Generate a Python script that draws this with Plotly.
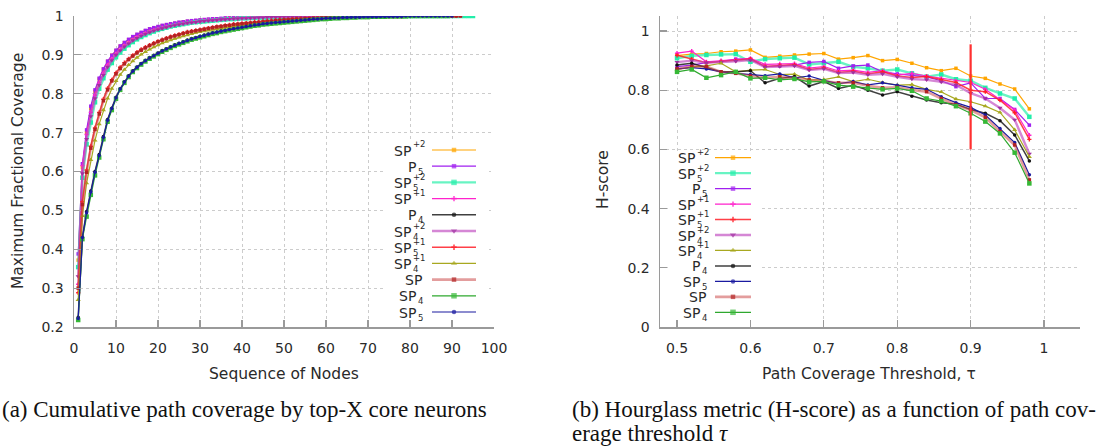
import plotly.graph_objects as go

W, H = 1117, 448

# ---------------- Panel (a): cumulative path coverage ----------------
cov_sp_p2 = [0.372, 0.610, 0.700, 0.762, 0.806, 0.838, 0.863, 0.883, 0.899, 0.911,
             0.922, 0.931, 0.939, 0.946, 0.952, 0.957, 0.962, 0.966, 0.969, 0.972,
             0.975, 0.977, 0.979, 0.981, 0.983, 0.985, 0.986, 0.987, 0.988, 0.989,
             0.990, 0.991, 0.992, 0.993, 0.993, 0.994, 0.995, 0.995, 0.996, 0.996,
             0.997, 0.997, 0.997, 0.998, 0.998, 0.998, 0.998, 0.999, 0.999, 0.999,
             0.999, 0.999, 0.999, 0.999, 0.999, 0.999, 1, 1, 1, 1,
             1, 1, 1, 1, 1, 1, 1, 1, 1, 1,
             1, 1, 1, 1, 1, 1, 1, 1, 1, 1,
             1, 1, 1, 1, 1, 1, 1, 1, 1, 1,
             1, 1, 1]
cov_p5 = [0.388, 0.620, 0.707, 0.768, 0.810, 0.840, 0.864, 0.884, 0.899, 0.912,
          0.923, 0.932, 0.940, 0.947, 0.953, 0.958, 0.963, 0.967, 0.970, 0.973,
          0.976, 0.978, 0.980, 0.982, 0.984, 0.985, 0.987, 0.988, 0.989, 0.990,
          0.991, 0.992, 0.993, 0.993, 0.994, 0.995, 0.995, 0.996, 0.996, 0.997,
          0.997, 0.997, 0.998, 0.998, 0.998, 0.998, 0.999, 0.999, 0.999, 0.999,
          0.999, 0.999, 0.999, 0.999, 0.999, 1, 1, 1, 1, 1,
          1, 1, 1, 1, 1, 1, 1, 1, 1, 1,
          1, 1, 1, 1, 1, 1, 1, 1, 1, 1,
          1, 1, 1, 1, 1, 1, 1, 1, 1, 1]
cov_sp5_p2 = [0.354, 0.584, 0.670, 0.726, 0.778, 0.813, 0.840, 0.862, 0.879, 0.894,
              0.906, 0.916, 0.925, 0.933, 0.940, 0.946, 0.951, 0.956, 0.960, 0.964,
              0.967, 0.970, 0.973, 0.975, 0.977, 0.979, 0.981, 0.983, 0.984, 0.985,
              0.986, 0.987, 0.988, 0.989, 0.990, 0.991, 0.992, 0.992, 0.993, 0.994,
              0.994, 0.995, 0.995, 0.996, 0.996, 0.996, 0.997, 0.997, 0.997, 0.998,
              0.998, 0.998, 0.998, 0.998, 0.999, 0.999, 0.999, 0.999, 0.999, 0.999,
              0.999, 0.999, 0.999, 0.999, 1, 1, 1, 1, 1, 1,
              1, 1, 1, 1, 1, 1, 1, 1, 1, 1,
              1, 1, 1, 1, 1, 1, 1, 1, 1, 1,
              1, 1, 1, 1, 1]
cov_sp_p1 = [0.310, 0.615, 0.695, 0.752, 0.796, 0.828, 0.853, 0.874, 0.890, 0.903,
             0.914, 0.924, 0.932, 0.939, 0.946, 0.951, 0.956, 0.960, 0.964, 0.967,
             0.970, 0.973, 0.975, 0.977, 0.979, 0.981, 0.983, 0.984, 0.985, 0.986,
             0.988, 0.989, 0.990, 0.990, 0.991, 0.992, 0.993, 0.993, 0.994, 0.994,
             0.995, 0.995, 0.996, 0.996, 0.997, 0.997, 0.997, 0.998, 0.998, 0.998,
             0.998, 0.999, 0.999, 0.999, 0.999, 0.999, 0.999, 0.999, 0.999, 0.999,
             1, 1, 1, 1, 1, 1, 1, 1, 1, 1,
             1, 1, 1, 1, 1, 1, 1, 1, 1, 1,
             1, 1, 1, 1, 1, 1, 1, 1, 1, 1,
             1, 1]
cov_p4 = [0.225, 0.432, 0.497, 0.550, 0.600, 0.644, 0.690, 0.734, 0.763, 0.791,
          0.813, 0.831, 0.846, 0.859, 0.869, 0.878, 0.886, 0.893, 0.899, 0.905,
          0.911, 0.916, 0.921, 0.926, 0.930, 0.934, 0.938, 0.942, 0.945, 0.948,
          0.951, 0.954, 0.957, 0.959, 0.962, 0.964, 0.966, 0.968, 0.970, 0.972,
          0.974, 0.976, 0.978, 0.979, 0.981, 0.982, 0.983, 0.984, 0.985, 0.986,
          0.987, 0.988, 0.989, 0.990, 0.991, 0.992, 0.993, 0.993, 0.994, 0.995,
          0.995, 0.996, 0.996, 0.997, 0.997, 0.997, 0.998, 0.998, 0.998, 0.999,
          0.999, 0.999, 0.999, 0.999, 0.999, 0.999, 1, 1, 1, 1,
          1, 1, 1, 1, 1, 1, 1, 1]
cov_sp4_p2 = [0.330, 0.595, 0.683, 0.742, 0.788, 0.822, 0.848, 0.869, 0.886, 0.900,
              0.911, 0.921, 0.929, 0.937, 0.943, 0.949, 0.954, 0.958, 0.962, 0.965,
              0.968, 0.971, 0.974, 0.976, 0.978, 0.980, 0.982, 0.983, 0.984, 0.986,
              0.987, 0.988, 0.989, 0.990, 0.991, 0.991, 0.992, 0.993, 0.993, 0.994,
              0.994, 0.995, 0.995, 0.996, 0.996, 0.997, 0.997, 0.997, 0.998, 0.998,
              0.998, 0.998, 0.998, 0.999, 0.999, 0.999, 0.999, 0.999, 0.999, 0.999,
              0.999, 0.999, 0.999, 1, 1, 1, 1, 1, 1, 1,
              1, 1, 1, 1, 1, 1, 1, 1, 1, 1,
              1, 1, 1, 1, 1, 1, 1, 1, 1, 1,
              1]
cov_sp5_p1 = [0.288, 0.522, 0.604, 0.665, 0.712, 0.752, 0.786, 0.814, 0.836, 0.854,
              0.868, 0.880, 0.890, 0.899, 0.907, 0.914, 0.920, 0.925, 0.930, 0.935,
              0.939, 0.943, 0.947, 0.950, 0.953, 0.956, 0.959, 0.961, 0.963, 0.965,
              0.967, 0.969, 0.971, 0.973, 0.974, 0.976, 0.977, 0.979, 0.980, 0.981,
              0.982, 0.983, 0.984, 0.985, 0.986, 0.987, 0.988, 0.989, 0.990, 0.990,
              0.991, 0.992, 0.992, 0.993, 0.993, 0.994, 0.994, 0.995, 0.995, 0.996,
              0.996, 0.996, 0.997, 0.997, 0.997, 0.998, 0.998, 0.998, 0.998, 0.999,
              0.999, 0.999, 0.999, 0.999, 0.999, 0.999, 0.999, 0.999, 1, 1,
              1, 1, 1, 1, 1, 1, 1, 1, 1, 1,
              1]
cov_sp4_p1 = [0.270, 0.486, 0.570, 0.630, 0.680, 0.722, 0.758, 0.788, 0.813, 0.833,
              0.849, 0.862, 0.874, 0.884, 0.893, 0.901, 0.908, 0.914, 0.920, 0.925,
              0.930, 0.934, 0.938, 0.942, 0.945, 0.948, 0.951, 0.954, 0.957, 0.959,
              0.961, 0.963, 0.965, 0.967, 0.969, 0.971, 0.972, 0.974, 0.975, 0.977,
              0.978, 0.979, 0.980, 0.981, 0.982, 0.983, 0.984, 0.985, 0.986, 0.987,
              0.988, 0.989, 0.989, 0.990, 0.991, 0.991, 0.992, 0.993, 0.993, 0.994,
              0.994, 0.995, 0.995, 0.996, 0.996, 0.996, 0.997, 0.997, 0.997, 0.998,
              0.998, 0.998, 0.998, 0.999, 0.999, 0.999, 0.999, 0.999, 1, 1,
              1, 1, 1, 1, 1, 1, 1, 1, 1, 1]
cov_sp = [0.300, 0.515, 0.598, 0.660, 0.708, 0.748, 0.782, 0.810, 0.833, 0.851,
          0.865, 0.877, 0.888, 0.897, 0.905, 0.912, 0.918, 0.924, 0.929, 0.934,
          0.938, 0.942, 0.946, 0.949, 0.952, 0.955, 0.958, 0.960, 0.962, 0.964,
          0.966, 0.968, 0.970, 0.972, 0.973, 0.975, 0.976, 0.978, 0.979, 0.980,
          0.981, 0.982, 0.983, 0.984, 0.985, 0.986, 0.987, 0.988, 0.989, 0.990,
          0.990, 0.991, 0.992, 0.992, 0.993, 0.993, 0.994, 0.994, 0.995, 0.995,
          0.996, 0.996, 0.996, 0.997, 0.997, 0.997, 0.998, 0.998, 0.998, 0.998,
          0.999, 0.999, 0.999, 0.999, 0.999, 0.999, 0.999, 0.999, 1, 1,
          1, 1, 1, 1, 1, 1, 1, 1, 1, 1,
          1, 1]
cov_sp4 = [0.218, 0.426, 0.484, 0.540, 0.590, 0.636, 0.683, 0.728, 0.758, 0.787,
           0.810, 0.828, 0.843, 0.856, 0.866, 0.875, 0.883, 0.890, 0.896, 0.902,
           0.908, 0.913, 0.918, 0.923, 0.927, 0.931, 0.935, 0.939, 0.942, 0.945,
           0.948, 0.951, 0.954, 0.956, 0.959, 0.961, 0.963, 0.965, 0.967, 0.969,
           0.971, 0.973, 0.975, 0.976, 0.978, 0.979, 0.980, 0.981, 0.982, 0.983,
           0.984, 0.985, 0.986, 0.987, 0.988, 0.989, 0.990, 0.991, 0.992, 0.992,
           0.993, 0.994, 0.994, 0.995, 0.995, 0.996, 0.996, 0.997, 0.997, 0.997,
           0.998, 0.998, 0.998, 0.998, 0.999, 0.999, 0.999, 0.999, 0.999, 1,
           1, 1, 1, 1, 1, 1, 1, 1, 1]
cov_sp5 = [0.222, 0.430, 0.494, 0.547, 0.598, 0.641, 0.688, 0.732, 0.762, 0.790,
           0.812, 0.830, 0.845, 0.858, 0.868, 0.877, 0.885, 0.892, 0.898, 0.904,
           0.910, 0.915, 0.920, 0.925, 0.929, 0.933, 0.937, 0.941, 0.944, 0.947,
           0.950, 0.953, 0.956, 0.958, 0.961, 0.963, 0.965, 0.967, 0.969, 0.971,
           0.973, 0.975, 0.977, 0.978, 0.980, 0.981, 0.982, 0.983, 0.984, 0.985,
           0.986, 0.987, 0.988, 0.989, 0.990, 0.991, 0.992, 0.992, 0.993, 0.994,
           0.994, 0.995, 0.995, 0.996, 0.996, 0.997, 0.997, 0.997, 0.998, 0.998,
           0.998, 0.998, 0.999, 0.999, 0.999, 0.999, 0.999, 0.999, 1, 1,
           1, 1, 1, 1, 1, 1, 1, 1, 1, 1]

# ---------------- Panel (b): H-score vs path coverage threshold ----------------
tau = [0.50, 0.52, 0.54, 0.56, 0.58, 0.60, 0.62, 0.64, 0.66, 0.68,
       0.70, 0.72, 0.74, 0.76, 0.78, 0.80, 0.82, 0.84, 0.86, 0.88,
       0.90, 0.92, 0.94, 0.96, 0.98]
h_sp_p2 = [0.917, 0.922, 0.924, 0.930, 0.932, 0.936, 0.911, 0.915, 0.919, 0.922,
           0.924, 0.905, 0.910, 0.917, 0.900, 0.904, 0.891, 0.876, 0.866, 0.874,
           0.848, 0.840, 0.821, 0.804, 0.737]
h_sp5_p2 = [0.908, 0.916, 0.919, 0.921, 0.922, 0.896, 0.905, 0.908, 0.910, 0.887,
            0.891, 0.896, 0.879, 0.874, 0.866, 0.870, 0.857, 0.846, 0.853, 0.837,
            0.832, 0.808, 0.789, 0.772, 0.710]
h_p5 = [0.880, 0.885, 0.893, 0.897, 0.905, 0.905, 0.880, 0.882, 0.885, 0.894,
        0.897, 0.874, 0.882, 0.885, 0.862, 0.855, 0.850, 0.845, 0.832, 0.812,
        0.825, 0.772, 0.772, 0.735, 0.682]
h_sp_p1 = [0.925, 0.932, 0.896, 0.900, 0.903, 0.908, 0.887, 0.889, 0.890, 0.875,
           0.880, 0.865, 0.868, 0.860, 0.866, 0.851, 0.857, 0.848, 0.840, 0.832,
           0.826, 0.803, 0.769, 0.733, 0.648]
h_sp5_p1 = [0.918, 0.905, 0.893, 0.897, 0.900, 0.905, 0.880, 0.884, 0.886, 0.870,
            0.875, 0.860, 0.864, 0.855, 0.862, 0.848, 0.843, 0.846, 0.835, 0.826,
            0.800, 0.795, 0.766, 0.724, 0.634]
h_sp4_p2 = [0.895, 0.900, 0.893, 0.895, 0.898, 0.902, 0.878, 0.880, 0.882, 0.868,
            0.872, 0.858, 0.860, 0.852, 0.855, 0.845, 0.838, 0.835, 0.828, 0.818,
            0.790, 0.772, 0.740, 0.700, 0.585]
h_sp4_p1 = [0.870, 0.879, 0.882, 0.891, 0.862, 0.868, 0.870, 0.853, 0.854, 0.834,
            0.836, 0.845, 0.829, 0.837, 0.826, 0.817, 0.819, 0.803, 0.794, 0.770,
            0.761, 0.746, 0.725, 0.666, 0.575]
h_p4 = [0.885, 0.891, 0.877, 0.862, 0.862, 0.866, 0.825, 0.840, 0.846, 0.814,
        0.829, 0.806, 0.817, 0.800, 0.784, 0.795, 0.780, 0.767, 0.758, 0.753,
        0.735, 0.722, 0.697, 0.649, 0.561]
h_sp5 = [0.872, 0.876, 0.872, 0.862, 0.857, 0.853, 0.849, 0.855, 0.842, 0.848,
         0.833, 0.822, 0.829, 0.818, 0.825, 0.817, 0.808, 0.803, 0.778, 0.758,
         0.742, 0.716, 0.671, 0.623, 0.514]
h_sp = [0.872, 0.880, 0.880, 0.862, 0.857, 0.848, 0.842, 0.845, 0.840, 0.835,
        0.830, 0.825, 0.825, 0.815, 0.808, 0.810, 0.801, 0.795, 0.772, 0.750,
        0.733, 0.708, 0.660, 0.615, 0.497]
h_sp4 = [0.862, 0.870, 0.842, 0.851, 0.862, 0.840, 0.842, 0.835, 0.838, 0.828,
         0.830, 0.817, 0.812, 0.806, 0.803, 0.806, 0.798, 0.772, 0.763, 0.746,
         0.722, 0.694, 0.654, 0.589, 0.485]

tau_marker = [0.9, 0.9]
tau_marker_h = [0.6, 0.955]

x_ticks_a = [0, 10, 20, 30, 40, 50, 60, 70, 80, 90, 100]
y_ticks_a = [0.2, 0.3, 0.4, 0.5, 0.6, 0.7, 0.8, 0.9, 1]
x_ticks_b = [0.5, 0.6, 0.7, 0.8, 0.9, 1]
y_ticks_b = [0, 0.2, 0.4, 0.6, 0.8, 1]

# labels: (base, subscript, superscript)
series_a = [
    (("SP", "", "+2"), cov_sp_p2),
    (("P", "5", ""), cov_p5),
    (("SP", "5", "+2"), cov_sp5_p2),
    (("SP", "", "+1"), cov_sp_p1),
    (("P", "4", ""), cov_p4),
    (("SP", "4", "+2"), cov_sp4_p2),
    (("SP", "5", "+1"), cov_sp5_p1),
    (("SP", "4", "+1"), cov_sp4_p1),
    (("SP", "", ""), cov_sp),
    (("SP", "4", ""), cov_sp4),
    (("SP", "5", ""), cov_sp5),
]
series_b = [
    (("SP", "", "+2"), h_sp_p2),
    (("SP", "5", "+2"), h_sp5_p2),
    (("P", "5", ""), h_p5),
    (("SP", "", "+1"), h_sp_p1),
    (("SP", "5", "+1"), h_sp5_p1),
    (("SP", "4", "+2"), h_sp4_p2),
    (("SP", "4", "+1"), h_sp4_p1),
    (("P", "4", ""), h_p4),
    (("SP", "5", ""), h_sp5),
    (("SP", "", ""), h_sp),
    (("SP", "4", ""), h_sp4),
]

# ---------------- styles ----------------
STY = {
    "SP+2":  dict(line="#FFA500", w=1.2, mc="#FFA500", sym="square", ms=3.5),
    "P5":    dict(line="#A020F0", w=1.2, mc="#A020F0", sym="square", ms=3.5),
    "SP5+2": dict(line="rgba(40,240,170,0.7)", w=2.4, mc="#22EEAA", sym="square", ms=4.5),
    "SP+1":  dict(line="#FF22CC", w=1.2, mc="#FF22CC", sym="cross", ms=3.5),
    "P4":    dict(line="rgba(30,30,30,0.85)", w=1.5, mc="#111111", sym="circle", ms=3.5),
    "SP4+2": dict(line="rgba(190,70,190,0.65)", w=2.4, mc="#A030A0", sym="triangle-down", ms=4.5),
    "SP5+1": dict(line="rgba(255,30,40,0.85)", w=1.5, mc="#FF1E28", sym="cross", ms=3.5),
    "SP4+1": dict(line="#A8A820", w=1.2, mc="#A8A820", sym="triangle-up", ms=4.5),
    "SP":    dict(line="rgba(200,60,60,0.5)", w=2.6, mc="#B22222", sym="square", ms=3.5),
    "SP4":   dict(line="#2EA82E", w=1.2, mc="#36B836", sym="square", ms=4.5),
    "SP5":   dict(line="#1A1AA0", w=1.2, mc="#1A1AA0", sym="circle", ms=3.5),
}

FONT = "DejaVu Sans"
TXT = "#2a2a2a"
AX_GRAY = "#9a9a9a"
GRID = "#cccccc"

fig = go.Figure()


def key(lbl):
    return "".join(lbl)


for lbl, vals in series_a:
    s = STY[key(lbl)]
    fig.add_trace(go.Scatter(
        x=list(range(1, len(vals) + 1)), y=vals, mode="lines+markers",
        line=dict(color=s["line"], width=s["w"]),
        marker=dict(color=s["mc"], symbol=s["sym"], size=s["ms"], line=dict(width=0)),
        xaxis="x", yaxis="y", showlegend=False, hoverinfo="skip"))

for lbl, vals in series_b:
    s = STY[key(lbl)]
    fig.add_trace(go.Scatter(
        x=tau, y=vals, mode="lines+markers",
        line=dict(color=s["line"], width=s["w"]),
        marker=dict(color=s["mc"], symbol=s["sym"], size=s["ms"], line=dict(width=0)),
        xaxis="x2", yaxis="y2", showlegend=False, hoverinfo="skip"))

fig.add_trace(go.Scatter(x=tau_marker, y=tau_marker_h, mode="lines",
                         line=dict(color="#FF3030", width=2.2),
                         xaxis="x2", yaxis="y2", showlegend=False, hoverinfo="skip"))

# ---------------- custom gnuplot-style keys (pixel overlay) ----------------
annotations = []


def px(x):
    return x / W


def py(y):
    return 1 - y / H


def add_key(series, box, x_text_r, x_line0, x_line1, y0, dy):
    bx0, by0, bx1, by1 = box
    fig.add_trace(go.Scatter(x=[bx0, bx1, bx1, bx0, bx0], y=[by0, by0, by1, by1, by0],
                             mode="lines", fill="toself", fillcolor="white",
                             line=dict(width=0, color="white"),
                             xaxis="x3", yaxis="y3", showlegend=False, hoverinfo="skip"))
    for i, (lbl, _) in enumerate(series):
        s = STY[key(lbl)]
        yc = y0 + i * dy
        xm = (x_line0 + x_line1) / 2
        fig.add_trace(go.Scatter(
            x=[x_line0, xm, x_line1], y=[yc, yc, yc], mode="lines+markers",
            line=dict(color=s["line"], width=s["w"]),
            marker=dict(color=s["mc"], symbol=s["sym"], size=[0, s["ms"] + 1, 0], line=dict(width=0)),
            xaxis="x3", yaxis="y3", showlegend=False, hoverinfo="skip"))
        base, sub, sup = lbl
        sw = 0
        if sup:
            sw = 11
        elif sub:
            sw = 6
        xr = x_text_r - sw
        annotations.append(dict(text=base, x=px(xr), y=py(yc + 0.5), xref="paper", yref="paper",
                                xanchor="right", yanchor="middle", showarrow=False,
                                font=dict(family=FONT, size=14, color=TXT), borderpad=0))
        sfont = dict(family=FONT, size=8.5, color=TXT)
        if sup and sub:
            annotations.append(dict(text=sup + "<br>" + sub, x=px(xr), y=py(yc), xref="paper",
                                    yref="paper", xanchor="left", yanchor="middle", align="left",
                                    showarrow=False, font=sfont, borderpad=0))
        elif sup:
            annotations.append(dict(text=sup, x=px(xr), y=py(yc - 5.5), xref="paper", yref="paper",
                                    xanchor="left", yanchor="middle", showarrow=False,
                                    font=sfont, borderpad=0))
        elif sub:
            annotations.append(dict(text=sub, x=px(xr), y=py(yc + 5.5), xref="paper", yref="paper",
                                    xanchor="left", yanchor="middle", showarrow=False,
                                    font=sfont, borderpad=0))


add_key(series_a, (386, 139, 489, 319), 423, 432, 476, 150, 16.2)
add_key(series_b, (668, 151, 760, 320), 707, 715, 751, 157.7, 15.46)

# axis titles
TFONT = dict(family=FONT, size=15.5, color=TXT)
annotations += [
    dict(text="Maximum Fractional Coverage", x=px(18), y=py(171), textangle=-90,
         xanchor="center", yanchor="middle",
         xref="paper", yref="paper", showarrow=False, font=TFONT),
    dict(text="Sequence of Nodes", x=px(284), y=py(374), xanchor="center", yanchor="middle",
         xref="paper", yref="paper", showarrow=False, font=TFONT),
    dict(text="H-score", x=px(603), y=py(180), textangle=-90, xanchor="center", yanchor="middle",
         xref="paper", yref="paper", showarrow=False, font=TFONT),
    dict(text="Path Coverage Threshold, τ", x=px(869), y=py(374), xanchor="center",
         yanchor="middle", xref="paper", yref="paper", showarrow=False, font=TFONT),
]

# captions
CAP = dict(family="Liberation Serif", size=23, color="#111")
annotations += [
    dict(text="(a) Cumulative path coverage by top-X core neurons", x=0, y=py(409),
         xref="paper", yref="paper", xanchor="left", yanchor="middle", showarrow=False, font=CAP),
    dict(text="(b) Hourglass metric (H-score) as a function of path cov-", x=px(570), y=py(409),
         xref="paper", yref="paper", xanchor="left", yanchor="middle", showarrow=False, font=CAP),
    dict(text="erage threshold <i>τ</i>", x=px(570), y=py(433),
         xref="paper", yref="paper", xanchor="left", yanchor="middle", showarrow=False, font=CAP),
]

common_axis = dict(showline=True, linecolor=AX_GRAY, linewidth=1.5, ticks="inside", ticklen=7,
                   tickcolor=AX_GRAY, tickwidth=1.2, showgrid=True, gridcolor=GRID, griddash="dot",
                   gridwidth=1, zeroline=False, tickfont=dict(family=FONT, size=14, color=TXT),
                   fixedrange=True, automargin=False)

ydom = [py(327), py(16)]
fig.update_layout(
    width=W, height=H, margin=dict(l=0, r=0, t=0, b=0, pad=0, autoexpand=False),
    paper_bgcolor="white", plot_bgcolor="rgba(0,0,0,0)",
    showlegend=False,
    xaxis=dict(domain=[px(74), px(494)], range=[0, 100], tickvals=x_ticks_a, anchor="y",
               ticklabelstandoff=8, **common_axis),
    yaxis=dict(domain=ydom, range=[0.2, 1.0], tickvals=y_ticks_a, anchor="x",
               ticktext=[f"{v:g}" for v in y_ticks_a], ticklabelstandoff=6, **common_axis),
    xaxis2=dict(domain=[px(660), px(1080)], range=[0.4768, 1.049], tickvals=x_ticks_b, anchor="y2",
                ticktext=[f"{v:g}" for v in x_ticks_b], ticklabelstandoff=8, **common_axis),
    yaxis2=dict(domain=ydom, range=[0, 1.0507], tickvals=y_ticks_b, anchor="x2",
                ticktext=[f"{v:g}" for v in y_ticks_b], ticklabelstandoff=6, **common_axis),
    xaxis3=dict(domain=[0, 1], range=[0, W], visible=False, anchor="y3", fixedrange=True,
                automargin=False),
    yaxis3=dict(domain=[0, 1], range=[H, 0], visible=False, anchor="x3", fixedrange=True,
                automargin=False),
    annotations=annotations,
)

fig.write_html("out.html", config={"displayModeBar": False, "staticPlot": True},
               post_script="document.body.style.margin='0';document.body.style.overflow='hidden';")
